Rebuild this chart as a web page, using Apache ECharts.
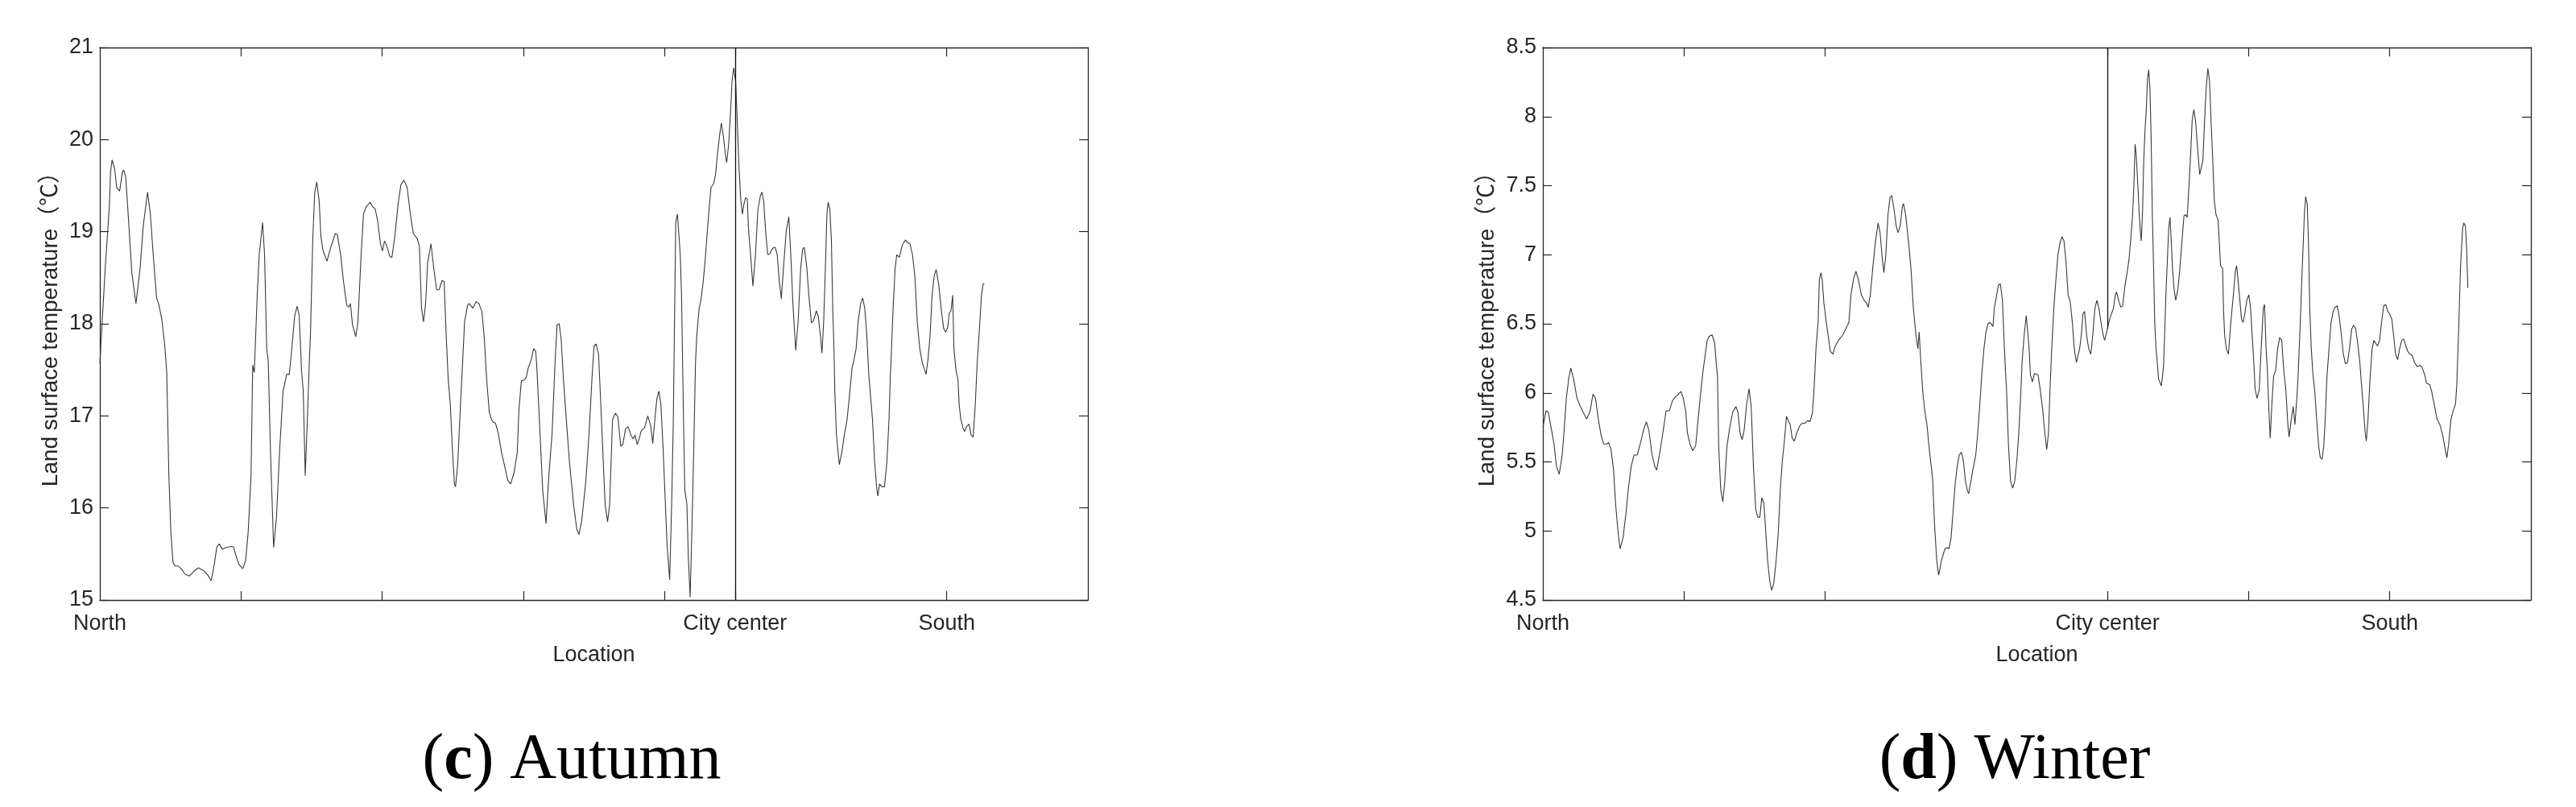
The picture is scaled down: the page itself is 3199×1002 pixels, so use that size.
<!DOCTYPE html>
<html>
<head>
<meta charset="utf-8">
<title>Land surface temperature profiles</title>
<script src="https://cdn.jsdelivr.net/npm/echarts@6/dist/echarts.min.js"></script>
<style>
    html, body { margin: 0; padding: 0; background: #ffffff; }
    #main { width: 3199px; height: 1002px; }
</style>
</head>
<body>
<div id="main"></div>
<script>
    // profile data: [location along transect, land surface temperature]
    var autumnProfile = [
        [0.000,17.57],[0.038,18.6],[0.067,19.27],[0.076,19.65],[0.087,19.78],[0.105,19.68],[0.119,19.48],[0.140,19.44],[0.160,19.65],[0.169,19.67],[0.183,19.6],[0.198,19.25],[0.227,18.55],[0.256,18.22],[0.265,18.23],[0.285,18.6],[0.308,19.07],[0.338,19.43],[0.358,19.19],[0.378,18.75],[0.402,18.28],[0.416,18.22],[0.439,18.05],[0.460,17.76],[0.474,17.47],[0.489,16.35],[0.503,15.74],[0.518,15.41],[0.533,15.37],[0.553,15.37],[0.576,15.34],[0.605,15.28],[0.634,15.26],[0.664,15.31],[0.698,15.35],[0.736,15.32],[0.765,15.27],[0.789,15.21],[0.809,15.37],[0.829,15.58],[0.847,15.61],[0.867,15.55],[0.896,15.57],[0.925,15.58],[0.946,15.58],[0.963,15.49],[0.984,15.39],[1.013,15.34],[1.033,15.43],[1.051,15.74],[1.071,16.35],[1.083,17.55],[1.094,17.47],[1.115,18.31],[1.129,18.75],[1.153,19.1],[1.167,18.75],[1.182,17.73],[1.193,17.6],[1.208,16.66],[1.231,15.57],[1.251,15.89],[1.275,16.66],[1.298,17.27],[1.324,17.45],[1.342,17.45],[1.362,17.76],[1.380,18.08],[1.397,18.19],[1.412,18.1],[1.429,17.49],[1.441,17.27],[1.455,16.35],[1.470,16.96],[1.484,17.58],[1.493,17.93],[1.508,18.9],[1.522,19.42],[1.537,19.54],[1.554,19.33],[1.566,18.95],[1.580,18.8],[1.609,18.68],[1.638,18.84],[1.668,18.98],[1.682,18.97],[1.706,18.75],[1.726,18.46],[1.749,18.2],[1.764,18.18],[1.775,18.22],[1.790,17.99],[1.813,17.86],[1.828,18.01],[1.851,18.75],[1.868,19.19],[1.886,19.27],[1.915,19.32],[1.932,19.27],[1.950,19.25],[1.967,19.13],[1.988,18.87],[2.002,18.79],[2.017,18.9],[2.031,18.85],[2.055,18.73],[2.069,18.72],[2.090,18.95],[2.113,19.3],[2.133,19.51],[2.154,19.56],[2.177,19.48],[2.200,19.19],[2.221,18.98],[2.250,18.92],[2.264,18.84],[2.279,18.17],[2.293,18.02],[2.308,18.22],[2.322,18.66],[2.346,18.87],[2.366,18.6],[2.386,18.37],[2.404,18.37],[2.424,18.47],[2.439,18.46],[2.453,17.9],[2.468,17.4],[2.483,17.12],[2.497,16.66],[2.512,16.26],[2.520,16.23],[2.535,16.47],[2.555,17.12],[2.570,17.58],[2.584,18.02],[2.605,18.2],[2.616,18.22],[2.643,18.17],[2.666,18.24],[2.686,18.22],[2.707,18.13],[2.724,17.84],[2.739,17.43],[2.747,17.27],[2.759,17.04],[2.774,16.96],[2.788,16.93],[2.803,16.92],[2.823,16.81],[2.846,16.6],[2.870,16.44],[2.890,16.3],[2.910,16.26],[2.934,16.38],[2.957,16.6],[2.969,17.06],[2.986,17.38],[3.006,17.39],[3.021,17.42],[3.035,17.52],[3.056,17.61],[3.073,17.73],[3.088,17.7],[3.094,17.58],[3.114,16.96],[3.137,16.2],[3.161,15.83],[3.181,16.35],[3.204,16.81],[3.225,17.58],[3.239,17.99],[3.254,18.0],[3.268,17.84],[3.283,17.43],[3.297,17.12],[3.327,16.5],[3.356,16.04],[3.379,15.77],[3.394,15.71],[3.414,15.86],[3.443,16.29],[3.466,16.81],[3.487,17.42],[3.501,17.76],[3.516,17.78],[3.533,17.67],[3.545,17.27],[3.562,16.66],[3.580,16.04],[3.597,15.85],[3.612,16.04],[3.632,16.96],[3.653,17.03],[3.670,16.99],[3.690,16.67],[3.705,16.69],[3.725,16.86],[3.743,16.88],[3.763,16.79],[3.778,16.75],[3.792,16.79],[3.807,16.69],[3.821,16.75],[3.836,16.84],[3.859,16.87],[3.882,17.0],[3.903,16.89],[3.917,16.7],[3.932,16.96],[3.946,17.18],[3.961,17.27],[3.975,17.12],[3.990,16.66],[4.005,16.1],[4.019,15.58],[4.037,15.22],[4.051,16.04],[4.063,16.96],[4.069,17.73],[4.080,19.1],[4.092,19.19],[4.101,19.2],[4.112,18.75],[4.121,18.31],[4.130,17.44],[4.135,16.96],[4.144,16.2],[4.159,16.04],[4.170,15.43],[4.182,15.03],[4.194,15.74],[4.208,16.66],[4.220,17.58],[4.229,17.87],[4.246,18.17],[4.258,18.25],[4.275,18.46],[4.290,18.72],[4.301,18.95],[4.316,19.24],[4.330,19.48],[4.348,19.52],[4.362,19.62],[4.377,19.86],[4.391,20.05],[4.403,20.18],[4.418,20.03],[4.432,19.83],[4.441,19.75],[4.456,19.97],[4.470,20.35],[4.479,20.64],[4.491,20.78],[4.505,20.62],[4.517,20.15],[4.528,19.71],[4.540,19.36],[4.552,19.19],[4.563,19.3],[4.575,19.37],[4.587,19.35],[4.595,19.04],[4.610,18.75],[4.627,18.41],[4.645,18.75],[4.662,19.24],[4.680,19.39],[4.691,19.43],[4.703,19.33],[4.718,18.98],[4.732,18.75],[4.747,18.76],[4.767,18.82],[4.785,18.83],[4.799,18.75],[4.814,18.46],[4.828,18.27],[4.843,18.6],[4.863,19.01],[4.881,19.16],[4.895,18.75],[4.910,18.22],[4.930,17.71],[4.947,18.02],[4.965,18.6],[4.979,18.81],[4.991,18.83],[5.009,18.6],[5.023,18.31],[5.041,18.01],[5.055,18.03],[5.076,18.14],[5.090,18.08],[5.105,17.87],[5.116,17.68],[5.128,18.02],[5.140,18.6],[5.151,19.19],[5.160,19.32],[5.172,19.24],[5.183,18.9],[5.192,18.17],[5.201,17.73],[5.207,17.27],[5.218,16.81],[5.227,16.66],[5.239,16.47],[5.256,16.6],[5.276,16.81],[5.294,16.96],[5.314,17.27],[5.329,17.52],[5.343,17.61],[5.358,17.73],[5.372,18.02],[5.390,18.22],[5.404,18.28],[5.419,18.17],[5.434,17.87],[5.448,17.44],[5.474,16.96],[5.489,16.5],[5.503,16.23],[5.512,16.13],[5.524,16.26],[5.541,16.23],[5.559,16.23],[5.576,16.5],[5.591,16.96],[5.600,17.42],[5.605,17.58],[5.620,18.17],[5.634,18.6],[5.646,18.75],[5.664,18.72],[5.684,18.85],[5.707,18.91],[5.722,18.88],[5.739,18.87],[5.757,18.75],[5.774,18.52],[5.791,18.02],[5.809,17.73],[5.826,17.58],[5.847,17.48],[5.853,17.45],[5.867,17.61],[5.882,17.87],[5.896,18.31],[5.911,18.52],[5.925,18.59],[5.943,18.43],[5.960,18.17],[5.978,17.95],[5.992,17.91],[6.007,17.96],[6.018,18.12],[6.030,18.14],[6.042,18.31],[6.051,17.73],[6.065,17.5],[6.080,17.39],[6.088,17.12],[6.100,16.96],[6.115,16.87],[6.126,16.83],[6.144,16.89],[6.158,16.91],[6.173,16.79],[6.187,16.77],[6.202,17.12],[6.216,17.58],[6.231,17.93],[6.246,18.31],[6.257,18.43],[6.266,18.44]
    ];

    var winterProfile = [
        [0.000,5.75],[0.023,5.87],[0.038,5.86],[0.058,5.75],[0.079,5.63],[0.096,5.47],[0.116,5.41],[0.137,5.55],[0.151,5.73],[0.166,5.96],[0.183,6.1],[0.198,6.18],[0.218,6.1],[0.242,5.96],[0.262,5.91],[0.285,5.86],[0.311,5.81],[0.335,5.87],[0.355,5.99],[0.373,5.96],[0.393,5.81],[0.413,5.69],[0.431,5.63],[0.451,5.63],[0.466,5.64],[0.483,5.59],[0.501,5.44],[0.515,5.2],[0.533,4.99],[0.547,4.87],[0.568,4.95],[0.588,5.12],[0.605,5.3],[0.626,5.47],[0.646,5.55],[0.669,5.55],[0.690,5.63],[0.713,5.73],[0.733,5.79],[0.751,5.73],[0.771,5.57],[0.792,5.47],[0.806,5.44],[0.829,5.57],[0.850,5.71],[0.873,5.87],[0.896,5.87],[0.917,5.94],[0.937,5.97],[0.960,5.99],[0.978,6.01],[0.995,5.96],[1.013,5.86],[1.024,5.71],[1.042,5.63],[1.062,5.58],[1.083,5.62],[1.100,5.81],[1.120,6.02],[1.135,6.16],[1.164,6.38],[1.179,6.41],[1.199,6.42],[1.217,6.36],[1.228,6.22],[1.237,6.12],[1.246,5.61],[1.260,5.3],[1.275,5.21],[1.289,5.36],[1.304,5.61],[1.324,5.75],[1.345,5.86],[1.368,5.9],[1.382,5.86],[1.397,5.71],[1.412,5.66],[1.426,5.73],[1.444,5.92],[1.461,6.03],[1.476,5.9],[1.493,5.44],[1.508,5.16],[1.522,5.1],[1.537,5.1],[1.551,5.24],[1.566,5.2],[1.577,5.03],[1.592,4.79],[1.607,4.64],[1.621,4.57],[1.636,4.62],[1.653,4.79],[1.668,4.99],[1.682,5.3],[1.697,5.51],[1.711,5.65],[1.726,5.83],[1.737,5.84],[1.752,5.77],[1.767,5.67],[1.781,5.65],[1.799,5.71],[1.819,5.76],[1.839,5.78],[1.857,5.78],[1.877,5.8],[1.892,5.79],[1.909,5.85],[1.921,6.02],[1.935,6.32],[1.950,6.51],[1.959,6.82],[1.970,6.87],[1.979,6.82],[1.991,6.65],[2.008,6.51],[2.023,6.4],[2.037,6.3],[2.055,6.28],[2.072,6.34],[2.095,6.38],[2.125,6.42],[2.154,6.48],[2.168,6.51],[2.183,6.71],[2.200,6.82],[2.218,6.88],[2.235,6.82],[2.256,6.71],[2.276,6.67],[2.293,6.65],[2.305,6.62],[2.320,6.71],[2.337,6.9],[2.357,7.1],[2.375,7.23],[2.389,7.16],[2.404,6.98],[2.416,6.87],[2.430,7.0],[2.445,7.29],[2.459,7.41],[2.471,7.43],[2.485,7.35],[2.503,7.21],[2.517,7.16],[2.532,7.21],[2.547,7.35],[2.555,7.37],[2.570,7.29],[2.590,7.1],[2.608,6.9],[2.625,6.61],[2.643,6.42],[2.657,6.32],[2.666,6.44],[2.678,6.22],[2.692,6.0],[2.707,5.86],[2.721,5.77],[2.736,5.61],[2.761,5.38],[2.775,5.05],[2.790,4.79],[2.804,4.68],[2.825,4.79],[2.848,4.87],[2.863,4.88],[2.877,4.87],[2.892,4.95],[2.906,5.14],[2.921,5.34],[2.936,5.47],[2.950,5.55],[2.965,5.57],[2.979,5.51],[2.994,5.36],[3.008,5.29],[3.017,5.27],[3.029,5.34],[3.046,5.44],[3.067,5.55],[3.081,5.71],[3.096,5.92],[3.110,6.14],[3.125,6.32],[3.139,6.44],[3.154,6.5],[3.168,6.51],[3.189,6.48],[3.198,6.61],[3.212,6.69],[3.227,6.78],[3.241,6.79],[3.256,6.67],[3.270,6.32],[3.279,6.13],[3.285,6.02],[3.299,5.61],[3.314,5.36],[3.329,5.31],[3.343,5.36],[3.358,5.51],[3.372,5.71],[3.387,6.02],[3.395,6.22],[3.410,6.42],[3.425,6.56],[3.433,6.57],[3.445,6.32],[3.454,6.13],[3.468,6.08],[3.483,6.14],[3.509,6.13],[3.524,6.02],[3.541,5.88],[3.556,5.71],[3.570,5.59],[3.582,5.71],[3.593,6.02],[3.605,6.32],[3.620,6.61],[3.634,6.81],[3.649,7.0],[3.663,7.08],[3.678,7.13],[3.692,7.1],[3.707,6.94],[3.721,6.71],[3.736,6.66],[3.751,6.51],[3.765,6.32],[3.780,6.22],[3.788,6.21],[3.803,6.32],[3.815,6.42],[3.826,6.57],[3.838,6.59],[3.852,6.42],[3.867,6.32],[3.882,6.28],[3.896,6.42],[3.911,6.61],[3.925,6.67],[3.940,6.61],[3.954,6.51],[3.969,6.42],[3.980,6.38],[3.995,6.44],[4.007,6.5],[4.021,6.55],[4.042,6.61],[4.056,6.71],[4.065,6.73],[4.079,6.67],[4.094,6.62],[4.108,6.63],[4.123,6.77],[4.141,6.88],[4.152,6.96],[4.164,7.1],[4.178,7.29],[4.187,7.49],[4.196,7.8],[4.204,7.72],[4.216,7.49],[4.225,7.29],[4.234,7.16],[4.239,7.1],[4.248,7.29],[4.257,7.68],[4.266,7.9],[4.274,8.03],[4.283,8.26],[4.292,8.34],[4.301,8.2],[4.309,7.87],[4.318,7.29],[4.327,6.9],[4.335,6.51],[4.344,6.32],[4.353,6.22],[4.362,6.1],[4.382,6.05],[4.397,6.19],[4.405,6.42],[4.414,6.71],[4.426,7.0],[4.434,7.19],[4.443,7.27],[4.452,7.1],[4.461,6.9],[4.472,6.75],[4.484,6.67],[4.499,6.75],[4.513,6.9],[4.528,7.1],[4.542,7.28],[4.554,7.29],[4.565,7.27],[4.577,7.49],[4.589,7.72],[4.600,7.97],[4.612,8.05],[4.624,7.97],[4.638,7.78],[4.653,7.58],[4.664,7.57],[4.676,7.68],[4.688,7.97],[4.699,8.2],[4.711,8.35],[4.723,8.26],[4.734,7.97],[4.746,7.68],[4.757,7.39],[4.769,7.29],[4.784,7.25],[4.792,7.1],[4.801,6.92],[4.816,6.9],[4.822,6.61],[4.830,6.42],[4.842,6.32],[4.857,6.28],[4.874,6.51],[4.892,6.71],[4.906,6.88],[4.915,6.92],[4.926,6.81],[4.938,6.67],[4.950,6.53],[4.961,6.51],[4.973,6.57],[4.987,6.67],[5.002,6.71],[5.014,6.61],[5.025,6.42],[5.037,6.22],[5.046,6.03],[5.060,5.96],[5.075,6.02],[5.089,6.32],[5.104,6.61],[5.113,6.64],[5.124,6.32],[5.133,6.16],[5.142,5.92],[5.153,5.67],[5.165,5.92],[5.177,6.12],[5.191,6.16],[5.206,6.32],[5.220,6.4],[5.235,6.38],[5.249,6.16],[5.264,6.02],[5.278,5.77],[5.287,5.68],[5.302,5.81],[5.316,5.9],[5.328,5.77],[5.343,5.98],[5.351,6.13],[5.366,6.51],[5.380,6.9],[5.395,7.29],[5.404,7.42],[5.415,7.37],[5.424,7.1],[5.433,6.61],[5.444,6.32],[5.456,6.13],[5.468,6.02],[5.482,5.81],[5.497,5.61],[5.508,5.53],[5.520,5.52],[5.532,5.61],[5.543,5.81],[5.555,6.12],[5.570,6.32],[5.584,6.51],[5.599,6.59],[5.613,6.62],[5.628,6.63],[5.642,6.55],[5.657,6.42],[5.671,6.28],[5.686,6.21],[5.700,6.22],[5.715,6.32],[5.730,6.46],[5.744,6.49],[5.759,6.46],[5.773,6.36],[5.788,6.22],[5.802,6.03],[5.811,5.92],[5.826,5.71],[5.834,5.65],[5.846,5.81],[5.861,6.12],[5.875,6.32],[5.887,6.38],[5.898,6.39],[5.913,6.34],[5.928,6.38],[5.942,6.51],[5.957,6.63],[5.971,6.64],[5.986,6.59],[6.000,6.57],[6.015,6.53],[6.027,6.42],[6.041,6.28],[6.056,6.24],[6.070,6.32],[6.085,6.38],[6.099,6.39],[6.114,6.34],[6.128,6.3],[6.143,6.28],[6.160,6.27],[6.175,6.22],[6.195,6.19],[6.216,6.2],[6.230,6.18],[6.248,6.13],[6.259,6.07],[6.283,6.06],[6.297,6.01],[6.318,5.9],[6.335,5.81],[6.355,5.77],[6.376,5.69],[6.393,5.59],[6.405,5.53],[6.417,5.63],[6.434,5.81],[6.452,5.88],[6.466,5.92],[6.475,6.06],[6.487,6.42],[6.501,6.9],[6.516,7.19],[6.524,7.23],[6.536,7.21],[6.545,7.04],[6.553,6.76]
    ];

    // axis ranges and tick positions
    var autumnRange = [15, 21, 1];
    var winterRange = [4.5, 8.5, 0.5];
    var locationRange = [0, 7];
    var autumnTicks = [1, 2, 3, 4, 4.5, 6];
    var winterTicks = [1, 2, 4, 5, 6];
    var autumnPlaces = [[0, 'North'], [4.5, 'City center'], [6, 'South']];
    var winterPlaces = [[0, 'North'], [4, 'City center'], [6, 'South']];
    var autumnCityCenter = 4.5;
    var winterCityCenter = 4;
    var panelTitles = ['Autumn', 'Winter'];
    var panelLetters = ['c', 'd'];
    var yName = 'Land surface temperature（℃）';
    var xName = 'Location';

    var axisColor = '#262626';
    var sansFont = "'Liberation Sans', Arial, 'Noto Sans CJK SC', sans-serif";
    var serifFont = "'Liberation Serif', 'Times New Roman', serif";

    // value of a profile at a location (linear between read points)
    var valueAt = function (profile, pos) {
        for (var i = 1; i < profile.length; i++) {
            if (profile[i][0] >= pos) {
                var a = profile[i - 1], b = profile[i];
                return a[1] + (b[1] - a[1]) * (pos - a[0]) / (b[0] - a[0]);
            }
        }
        return profile[profile.length - 1][1];
    };

    var placeFormatter = function (places) {
        return function (v) {
            for (var i = 0; i < places.length; i++) {
                if (Math.abs(places[i][0] - v) < 1e-6) return places[i][1];
            }
            return '';
        };
    };

    var makeXAxis = function (gridIndex, ticks, places, top) {
        return {
            type: 'value',
            gridIndex: gridIndex,
            position: top ? 'top' : 'bottom',
            min: locationRange[0],
            max: locationRange[1],
            name: top ? '' : xName,
            nameLocation: 'middle',
            nameGap: 55,
            nameTextStyle: { fontSize: 27, color: axisColor, fontFamily: sansFont },
            axisLine: { show: true, onZero: false, lineStyle: { color: axisColor, width: 1.3 } },
            axisTick: { show: true, inside: true, length: 11, customValues: ticks, lineStyle: { color: axisColor, width: 1.2 } },
            axisLabel: {
                show: !top,
                customValues: places.map(function (p) { return p[0]; }),
                formatter: placeFormatter(places),
                margin: 16,
                fontSize: 27,
                color: axisColor,
                fontFamily: sansFont
            },
            splitLine: { show: false }
        };
    };

    var makeYAxis = function (gridIndex, range, right, gap) {
        return {
            type: 'value',
            gridIndex: gridIndex,
            position: right ? 'right' : 'left',
            min: range[0],
            max: range[1],
            interval: range[2],
            name: right ? '' : yName,
            nameLocation: 'middle',
            nameRotate: 90,
            nameGap: gap,
            nameTextStyle: { fontSize: 28, color: axisColor, fontFamily: sansFont },
            axisLine: { show: true, onZero: false, lineStyle: { color: axisColor, width: 1.3 } },
            axisTick: { show: true, inside: true, length: 11, lineStyle: { color: axisColor, width: 1.2 } },
            axisLabel: { show: !right, margin: 8, fontSize: 27, color: axisColor, fontFamily: sansFont },
            splitLine: { show: false }
        };
    };

    var makeSeries = function (index, profile, cityLine) {
        return {
            type: 'line',
            xAxisIndex: index * 2,
            yAxisIndex: index * 2,
            data: profile,
            showSymbol: false,
            symbol: 'none',
            smooth: false,
            lineStyle: { color: '#3a3a3a', width: 1.1 },
            silent: true,
            markLine: {
                silent: true,
                symbol: ['none', 'none'],
                label: { show: false },
                lineStyle: { color: '#111111', width: 1.3, type: 'solid' },
                data: [cityLine]
            }
        };
    };

    var makeTitle = function (i, x) {
        return {
            type: 'text', x: x, y: 945,
            style: {
                text: '({b|' + panelLetters[i] + '}) ' + panelTitles[i],
                fill: '#000000', font: '80px ' + serifFont,
                align: 'center', verticalAlign: 'middle',
                rich: { b: { fontWeight: 'bold', fontSize: 80, fontFamily: serifFont, fill: '#000000' } }
            }
        };
    };

    var chartDom = document.getElementById('main');
    var myChart = echarts.init(chartDom, null, { renderer: 'canvas' });

    var winterLineFrom = valueAt(winterProfile, winterCityCenter);

    var option = {
        animation: false,
        backgroundColor: '#ffffff',
        grid: [
            { left: 124, top: 59, width: 1227, height: 686 },
            { left: 1916, top: 59, width: 1227, height: 686 }
        ],
        xAxis: [
            makeXAxis(0, autumnTicks, autumnPlaces, false),
            makeXAxis(0, autumnTicks, autumnPlaces, true),
            makeXAxis(1, winterTicks, winterPlaces, false),
            makeXAxis(1, winterTicks, winterPlaces, true)
        ],
        yAxis: [
            makeYAxis(0, autumnRange, false, 47),
            makeYAxis(0, autumnRange, true, 0),
            makeYAxis(1, winterRange, false, 55),
            makeYAxis(1, winterRange, true, 0)
        ],
        series: [
            makeSeries(0, autumnProfile, [
                { coord: [autumnCityCenter, autumnRange[0]] },
                { coord: [autumnCityCenter, autumnRange[1]] }
            ]),
            makeSeries(1, winterProfile, [
                { coord: [winterCityCenter, winterLineFrom] },
                { coord: [winterCityCenter, winterRange[1]] }
            ])
        ],
        graphic: [
            makeTitle(0, 710),
            makeTitle(1, 2502)
        ]
    };

    option && myChart.setOption(option);
</script>
</body>
</html>
